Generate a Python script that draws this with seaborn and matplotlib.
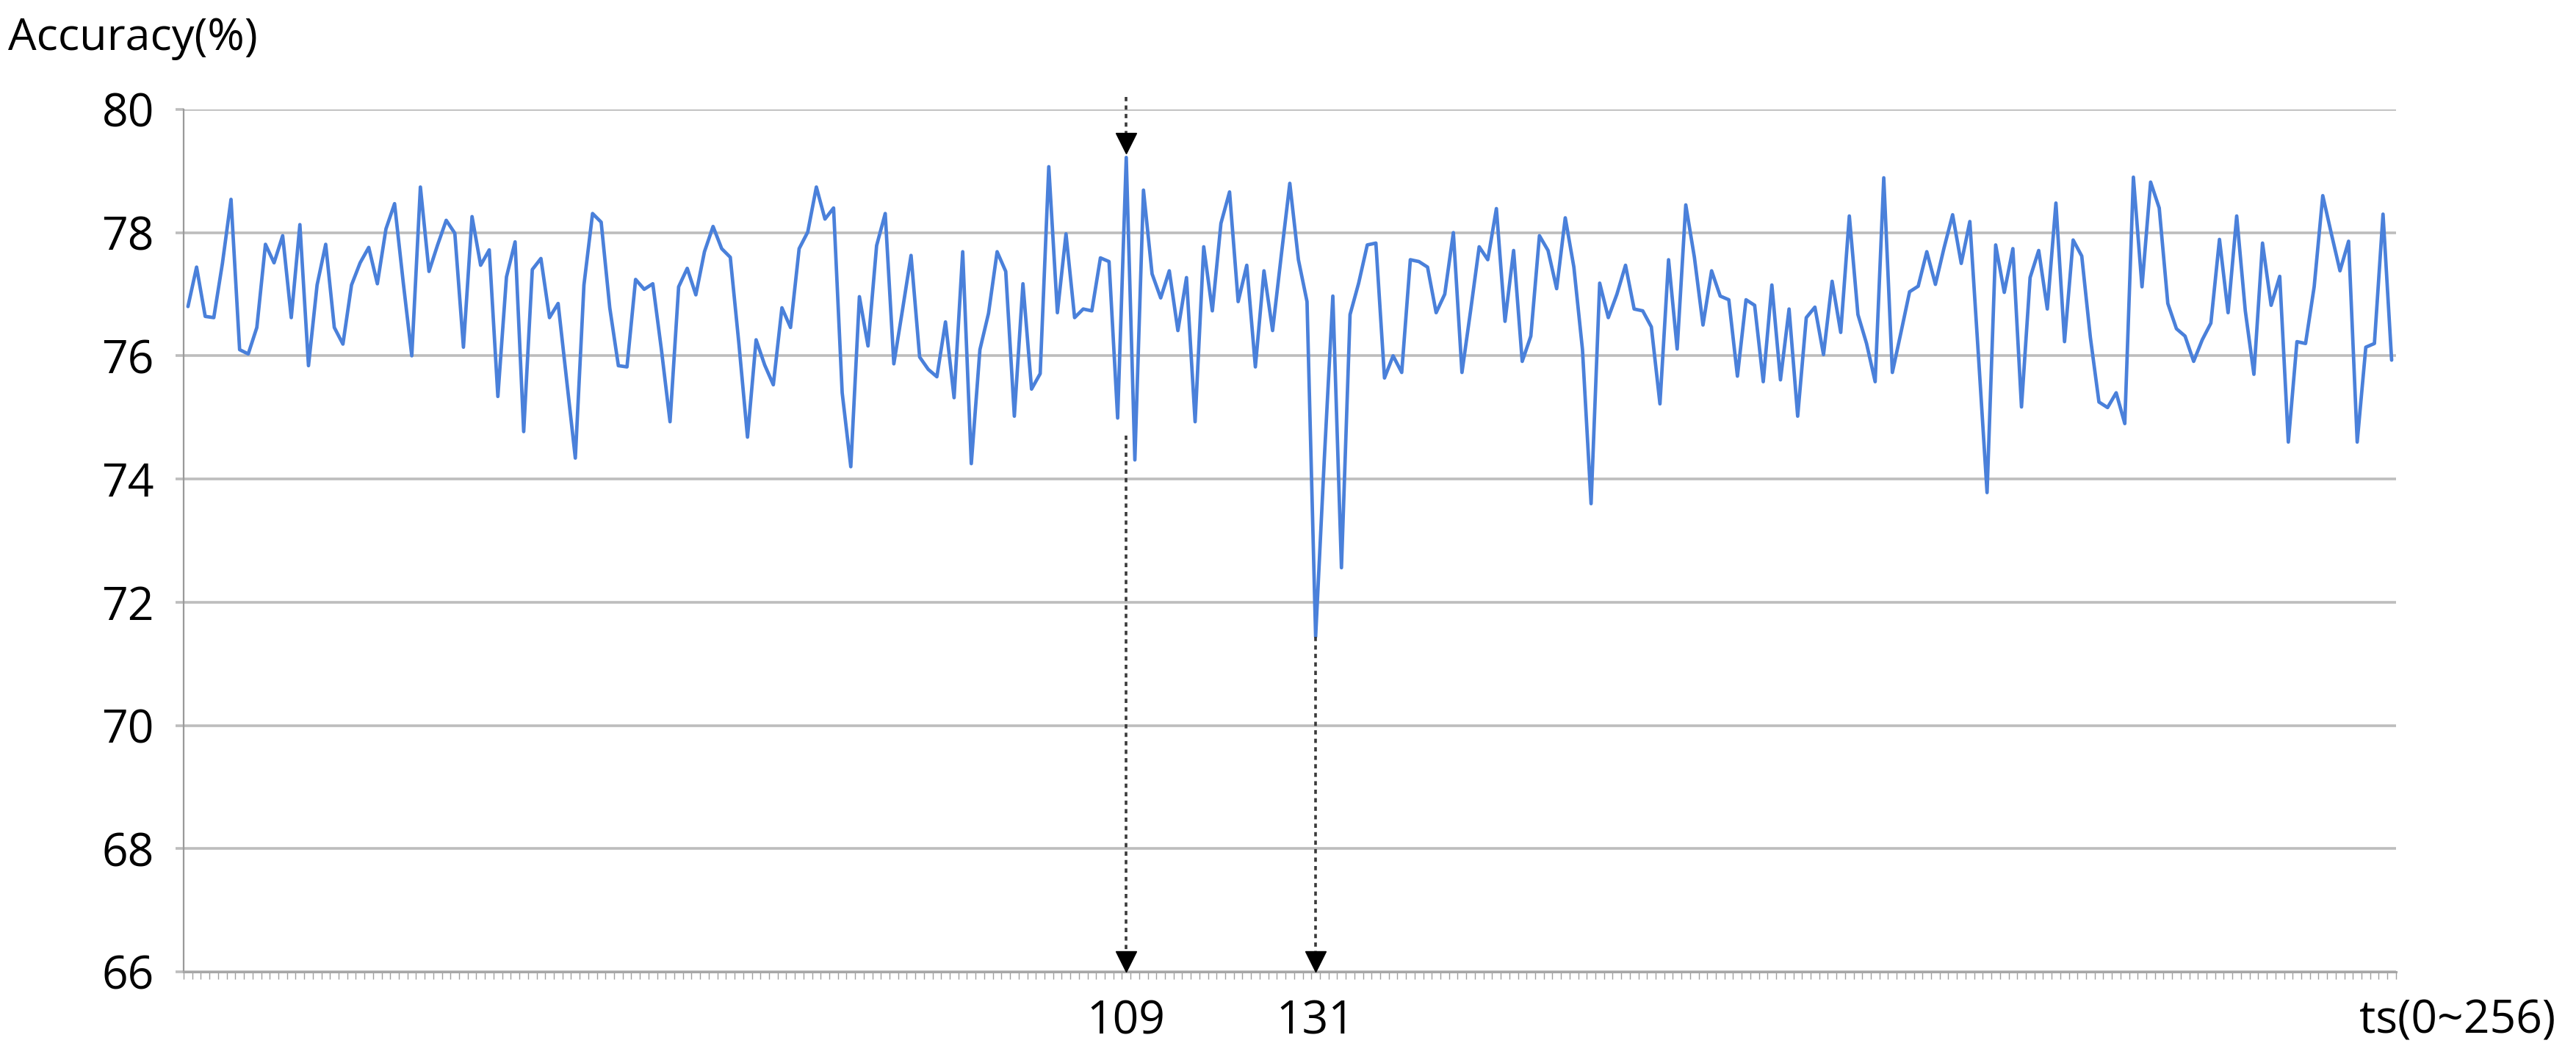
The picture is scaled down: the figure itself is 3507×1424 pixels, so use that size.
import numpy as np
import pandas as pd
import matplotlib
matplotlib.use("Agg")
import matplotlib.pyplot as plt
import seaborn as sns

# accuracy per timestep
ts = list(range(257))
accuracy = [
    76.8, 77.44, 76.64, 76.62, 77.5, 78.54, 76.1, 76.03, 76.46, 77.81,
    77.51, 77.95, 76.62, 78.13, 75.84, 77.15, 77.81, 76.46, 76.19, 77.15,
    77.51, 77.76, 77.17, 78.06, 78.47, 77.2, 76.0, 78.74, 77.37, 77.8,
    78.2, 77.99, 76.14, 78.26, 77.47, 77.72, 75.34, 77.28, 77.85, 74.77,
    77.4, 77.58, 76.62, 76.85, 75.6, 74.34, 77.15, 78.31, 78.17, 76.78,
    75.84, 75.82, 77.24, 77.08, 77.17, 76.1, 74.93, 77.12, 77.42, 76.99,
    77.69, 78.1, 77.74, 77.6, 76.2, 74.68, 76.26, 75.85, 75.53, 76.78,
    76.46, 77.74, 78.01, 78.74, 78.22, 78.4, 75.4, 74.2, 76.96, 76.16,
    77.79, 78.31, 75.87, 76.74, 77.63, 75.98, 75.78, 75.66, 76.55, 75.32,
    77.69, 74.25, 76.1, 76.69, 77.69, 77.37, 75.02, 77.17, 75.46, 75.71,
    79.07, 76.7, 77.98, 76.62, 76.76, 76.73, 77.59, 77.53, 74.99, 79.22,
    74.31, 78.69, 77.33, 76.94, 77.38, 76.41, 77.27, 74.93, 77.77, 76.73,
    78.15, 78.66, 76.88, 77.47, 75.82, 77.38, 76.41, 77.62, 78.8, 77.56,
    76.88, 71.44, 74.3, 76.97, 72.56, 76.67, 77.18, 77.8, 77.83, 75.64,
    76.0, 75.73, 77.56, 77.53, 77.44, 76.7, 77.0, 78.0, 75.73, 76.73,
    77.77, 77.56, 78.39, 76.56, 77.71, 75.91, 76.32, 77.95, 77.71, 77.09,
    78.24, 77.44, 76.1, 73.6, 77.18, 76.62, 77.0, 77.47, 76.76, 76.73,
    76.47, 75.22, 77.56, 76.11, 78.45, 77.6, 76.5, 77.38, 76.97, 76.91,
    75.67, 76.91, 76.82, 75.58, 77.15, 75.61, 76.76, 75.02, 76.62, 76.79,
    76.02, 77.21, 76.38, 78.27, 76.67, 76.2, 75.58, 78.89, 75.73, 76.38,
    77.04, 77.13, 77.69, 77.16, 77.75, 78.29, 77.5, 78.18, 76.0, 73.78,
    77.8, 77.03, 77.74, 75.17, 77.27, 77.71, 76.76, 78.48, 76.23, 77.88,
    77.62, 76.3, 75.25, 75.16, 75.4, 74.9, 78.9, 77.12, 78.82, 78.4,
    76.85, 76.44, 76.32, 75.91, 76.26, 76.53, 77.89, 76.7, 78.27, 76.73,
    75.7, 77.83, 76.82, 77.29, 74.6, 76.23, 76.2, 77.12, 78.6, 77.98,
    77.38, 77.86, 74.6, 76.14, 76.2, 78.3, 75.93,
]

marked_ts = [109, 131]
y_ticks = [66, 68, 70, 72, 74, 76, 78, 80]
y_label = "Accuracy(%)"
x_label = "ts(0~256)"


def main():
    sns.set_style("white")
    plt.rcParams["font.family"] = ["Open Sans", "DejaVu Sans"]

    df = pd.DataFrame({"ts": ts, "accuracy": accuracy})

    fig = plt.figure(figsize=(35.07, 14.24), dpi=100)
    ax = fig.add_axes([0.0713, 0.0709, 0.8588, 0.8245])

    sns.lineplot(data=df, x="ts", y="accuracy", ax=ax, color="#4A80DA",
                 linewidth=3.4, zorder=3)

    ax.set_xlim(-0.5, 256.5)
    ax.set_ylim(66, 80)
    ax.set_xlabel("")
    ax.set_ylabel("")

    # grid + axes styling
    ax.set_yticks(y_ticks)
    ax.set_yticklabels([str(v) for v in y_ticks])
    ax.yaxis.grid(True, color="#BDBDBD", linewidth=2.6)
    ax.xaxis.grid(False)
    ax.tick_params(axis="y", length=8, width=2.6, color="#BDBDBD",
                   pad=21, labelsize=45, labelcolor="black", left=True)

    ax.set_xticks([])
    ax.set_xticks(np.arange(-0.5, 257, 1), minor=True)
    ax.tick_params(axis="x", which="minor", length=7, width=1.0,
                   color="#A0A0A0", direction="out", bottom=True)

    for side in ["top", "right"]:
        ax.spines[side].set_visible(False)
    ax.spines["left"].set_color("#9A9A9A")
    ax.spines["left"].set_linewidth(1.6)
    ax.spines["bottom"].set_color("#A6A6A6")
    ax.spines["bottom"].set_linewidth(2.2)

    # dotted markers for the two highlighted timesteps
    dot_style = dict(color="#3A3A3A", linewidth=2.6, linestyle=(0, (1.6, 1.6)),
                     clip_on=False, zorder=4)
    peak, dip = marked_ts
    ax.plot([peak, peak], [80.2, 79.5], **dot_style)
    ax.plot([peak], [79.45], marker="v", color="black", markersize=20,
            clip_on=False, zorder=5)
    ax.plot([peak, peak], [74.7, 66.1], **dot_style)
    ax.plot([dip, dip], [accuracy[dip], 66.1], **dot_style)
    for t in marked_ts:
        ax.plot([t], [66.17], marker="v", color="black", markersize=20,
                clip_on=False, zorder=5)
        ax.text(t, -0.072, str(t), transform=ax.get_xaxis_transform(),
                ha="center", va="baseline", fontsize=45, color="black")

    fig.text(11 / 3507, 1 - 68 / 1424, y_label, ha="left", va="baseline",
             fontsize=44, color="black")
    fig.text(3346 / 3507, 1 - 1406 / 1424, x_label, ha="center",
             va="baseline", fontsize=45, color="black")

    fig.savefig("out.png", dpi=100, facecolor="white")


if __name__ == "__main__":
    main()
